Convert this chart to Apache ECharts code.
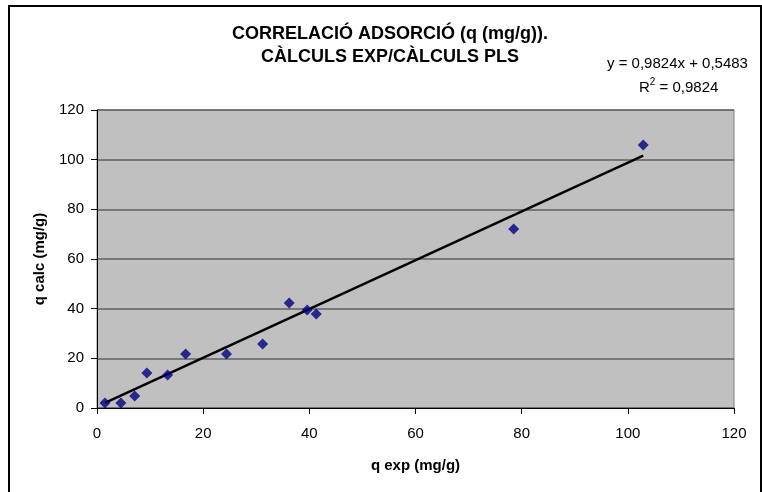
<!DOCTYPE html>
<html>
<head>
<meta charset="utf-8">
<script src="https://cdn.jsdelivr.net/npm/echarts@6/dist/echarts.min.js"></script>
<style>html,body{margin:0;padding:0;background:#fff;}#c{width:762px;height:492px;}</style>
</head>
<body>
<div id="c"></div>
<script>
var qExp  = [1.5, 4.5, 7.1, 9.4, 13.3, 16.7, 24.4, 31.2, 36.2, 39.6, 41.3, 78.5, 102.9];
var qCalc = [2.0, 2.0, 4.8, 14.1, 13.3, 21.7, 21.7, 25.8, 42.3, 39.5, 37.9, 72.1, 105.9];
var slope = 0.9824, intercept = 0.5483;
var xTicks = [0, 20, 40, 60, 80, 100, 120];
var yTicks = [0, 20, 40, 60, 80, 100, 120];

var pts = qExp.map(function (x, i) { return [x, qCalc[i]]; });
var xmin = Math.min.apply(null, qExp), xmax = Math.max.apply(null, qExp);
var trend = [[xmin, slope * xmin + intercept], [xmax, slope * xmax + intercept]];
var F = 'Arial, "Liberation Sans", sans-serif';

var chart = echarts.init(document.getElementById('c'), null, {renderer: 'canvas'});
chart.setOption({
  animation: false,
  backgroundColor: '#ffffff',
  title: {
    text: 'CORRELACIÓ ADSORCIÓ (q (mg/g)).\nCÀLCULS EXP/CÀLCULS PLS',
    left: 385, top: 18, textAlign: 'center',
    textStyle: {fontFamily: F, fontSize: 18, fontWeight: 'bold', color: '#000', lineHeight: 23}
  },
  grid: {left: 97, top: 110, width: 637, height: 298, show: true, backgroundColor: '#c0c0c0', borderColor: '#808080', borderWidth: 1},
  xAxis: {
    type: 'value', min: 0, max: 120, interval: 20,
    name: 'q exp (mg/g)', nameLocation: 'middle', nameGap: 50,
    nameTextStyle: {fontFamily: F, fontSize: 15, fontWeight: 'bold', color: '#000'},
    axisLine: {show: true, onZero: false, lineStyle: {color: '#000', width: 1}},
    axisTick: {show: true, inside: false, length: 6, lineStyle: {color: '#000'}},
    axisLabel: {fontFamily: F, fontSize: 15, color: '#000', margin: 18},
    splitLine: {show: false}
  },
  yAxis: {
    type: 'value', min: 0, max: 120, interval: 20,
    name: 'q calc (mg/g)', nameLocation: 'middle', nameGap: 50,
    nameTextStyle: {fontFamily: F, fontSize: 15, fontWeight: 'bold', color: '#000'},
    axisLine: {show: true, lineStyle: {color: '#000', width: 1}},
    axisTick: {show: true, inside: false, length: 6, lineStyle: {color: '#000'}},
    axisLabel: {fontFamily: F, fontSize: 15, color: '#000', margin: 13},
    splitLine: {show: true, lineStyle: {color: '#606060', width: 1.5}}
  },
  graphic: [
    {type: 'rect', shape: {x: 9, y: 6, width: 752, height: 500}, style: {fill: 'none', stroke: '#000', lineWidth: 2}, silent: true},
    {type: 'text', left: 607, top: 56, style: {text: 'y = 0,9824x + 0,5483', font: '15px ' + F, fill: '#000'}},
    {type: 'text', left: 639, top: 77, style: {
      text: '{a|R}{s|2}{a| = 0,9824}',
      rich: {a: {fontFamily: F, fontSize: 15, fill: '#000', color: '#000', verticalAlign: 'bottom'},
             s: {fontFamily: F, fontSize: 10, fill: '#000', color: '#000', verticalAlign: 'top', padding: [0, 0, 8, 0]}}
    }}
  ],
  series: [
    {type: 'line', data: trend, symbol: 'none', lineStyle: {color: '#000', width: 2.5}, z: 3, silent: true},
    {type: 'scatter', data: pts, symbol: 'diamond', symbolSize: 11, itemStyle: {color: '#000080'}, z: 4}
  ]
});
</script>
</body>
</html>
